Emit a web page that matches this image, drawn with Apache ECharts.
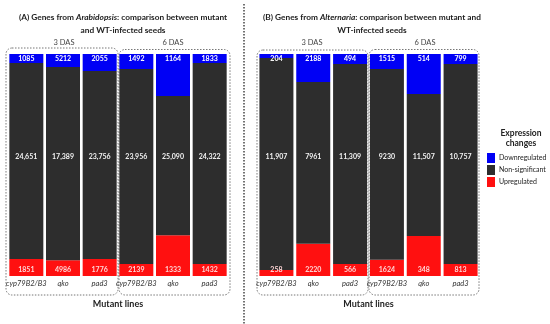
<!DOCTYPE html>
<html><head><meta charset="utf-8">
<script src="https://cdn.jsdelivr.net/npm/echarts@6/dist/echarts.min.js"></script>
<style>html,body{margin:0;padding:0;background:#fff}#c{width:550px;height:324px}</style>
</head><body><div id="c"></div>
<script>
// categories
const mutantLines = ['cyp79B2/B3', 'qko', 'pad3'];
const timepoints = ['3 DAS', '6 DAS'];
const seriesNames = ['Downregulated', 'Non-significant', 'Upregulated'];

// counts (labels) — Arabidopsis genes
const araDownCount = [1085, 5212, 2055, 1492, 1164, 1833];
const araNsCount   = [24651, 17389, 23756, 23956, 25090, 24322];
const araUpCount   = [1851, 4986, 1776, 2139, 1333, 1432];
// counts (labels) — Alternaria genes
const altDownCount = [204, 2188, 494, 1515, 514, 799];
const altNsCount   = [11907, 7961, 11309, 9230, 11507, 10757];
const altUpCount   = [258, 2220, 566, 1624, 348, 813];

// bar segment heights as drawn (% of bar)
const araDownPct = [4.1, 5.9, 7.7, 6.8, 18.9, 4.1];
const araNsPct   = [88.2, 87.0, 84.6, 87.8, 62.7, 90.5];
const araUpPct   = [7.7, 7.1, 7.7, 5.4, 18.4, 5.4];
const altDownPct = [1.8, 12.6, 4.5, 6.8, 18.0, 4.5];
const altNsPct   = [95.5, 72.9, 90.1, 85.9, 64.0, 90.1];
const altUpPct   = [2.7, 14.5, 5.4, 7.3, 18.0, 5.4];
const fullBar    = [100, 100, 100, 100, 100, 100];

const barKeys = [];
timepoints.forEach(t => mutantLines.forEach(m => barKeys.push(t + '|' + m)));

const FONT = 'Lato';
const C_DOWN = '#0000f5', C_NS = '#2d2d2d', C_UP = '#ff1010';
const fmtNum = v => v >= 10000 ? v.toLocaleString('en-US') : String(v);

function panelSeries(p, down, ns, up, downC, nsC, upC) {
  const base = { type: 'bar', xAxisIndex: p, yAxisIndex: p, barWidth: 34, barGap: '-100%', stack: 'p' + p };
  return [
    Object.assign({}, base, {
      name: 'Upregulated', data: up, itemStyle: { color: C_UP },
      label: { show: true, position: 'insideBottom', distance: 3, color: '#ffd6d6', fontFamily: FONT,
        fontSize: 7, fontWeight: 'bold', formatter: q => fmtNum(upC[q.dataIndex]) }
    }),
    Object.assign({}, base, { name: 'Non-significant', data: ns, itemStyle: { color: C_NS } }),
    Object.assign({}, base, {
      name: 'Downregulated', data: down, itemStyle: { color: C_DOWN },
      label: { show: true, position: 'insideTop', distance: 1, color: '#ffffff', fontFamily: FONT,
        fontSize: 7, fontWeight: 'bold', formatter: q => fmtNum(downC[q.dataIndex]) }
    }),
    {
      type: 'bar', name: 'nslabel' + p, xAxisIndex: p, yAxisIndex: p, barWidth: 34, barGap: '-100%',
      data: fullBar, z: 5, silent: true, itemStyle: { color: 'rgba(0,0,0,0)' },
      label: { show: true, position: ['50%', '46.4%'], align: 'center', verticalAlign: 'middle',
        color: '#f2f2f2', fontFamily: FONT, fontSize: 7, fontWeight: 'bold',
        formatter: q => fmtNum(nsC[q.dataIndex]) }
    }
  ];
}

const xAxisBase = {
  type: 'category', data: barKeys,
  axisLine: { show: false }, axisTick: { show: false },
  axisLabel: { formatter: v => v.split('|')[1], fontStyle: 'italic', fontFamily: FONT, fontSize: 7.5, color: '#333', margin: 4, interval: 0 },
  name: 'Mutant lines', nameLocation: 'middle', nameGap: 24,
  nameTextStyle: { fontFamily: FONT, fontWeight: 'bold', fontSize: 9, color: '#222' }
};
const yAxisBase = { type: 'value', min: 0, max: 100, show: false };

const titleStyle = {
  fontFamily: FONT, fontWeight: 'bold', fontSize: 8.3, color: '#222', lineHeight: 13,
  rich: { i: { fontFamily: FONT, fontWeight: 'bold', fontStyle: 'italic', fontSize: 8.3, color: '#222', lineHeight: 13 } }
};

function box(x, y, w, h) {
  return { type: 'rect', shape: { x, y, width: w, height: h, r: 6 }, silent: true,
    style: { fill: 'none', stroke: '#777', lineWidth: 1, lineDash: [1.5, 1.5] } };
}
function txt(x, y, text, extra) {
  return { type: 'text', x, y, silent: true,
    style: Object.assign({ text, fontFamily: FONT, fontSize: 7.5, fill: '#444', align: 'center', verticalAlign: 'middle' }, extra || {}) };
}

const option = {
  animation: false,
  backgroundColor: '#ffffff',
  title: [
    { text: '(A) Genes from {i|Arabidopsis}: comparison between mutant\nand WT-infected seeds', left: 118, top: 6, textAlign: 'center', textStyle: titleStyle },
    { text: '(B) Genes from {i|Alternaria}: comparison between mutant and\nWT-infected seeds', left: 367, top: 6, textAlign: 'center', textStyle: titleStyle }
  ],
  legend: {
    data: seriesNames, orient: 'vertical', left: 487, top: 153, icon: 'rect', padding: 0,
    itemWidth: 8, itemHeight: 10, itemGap: 2, selectedMode: false,
    textStyle: { fontFamily: FONT, fontSize: 7, color: '#222', padding: [0, 0, 0, -1] }
  },
  grid: [
    { left: 8, width: 220, top: 54, height: 222 },
    { left: 258, width: 221, top: 54, height: 222 }
  ],
  xAxis: [Object.assign({ gridIndex: 0 }, xAxisBase), Object.assign({ gridIndex: 1 }, xAxisBase)],
  yAxis: [Object.assign({ gridIndex: 0 }, yAxisBase), Object.assign({ gridIndex: 1 }, yAxisBase)],
  series: [].concat(
    panelSeries(0, araDownPct, araNsPct, araUpPct, araDownCount, araNsCount, araUpCount),
    panelSeries(1, altDownPct, altNsPct, altUpPct, altDownCount, altNsCount, altUpCount)
  ),
  graphic: [
    { type: 'line', shape: { x1: 244, y1: 4, x2: 244, y2: 324 }, silent: true,
      style: { stroke: '#444', lineWidth: 1.5, lineDash: [1.5, 1.5] } },
    box(6, 48, 112, 247), box(119, 49.5, 111, 245.5),
    box(257, 50, 111, 245), box(369, 49.5, 110, 245.5),
    txt(64, 43, timepoints[0]), txt(173, 43, timepoints[1]),
    txt(312, 43, timepoints[0]), txt(425, 43, timepoints[1]),
    txt(521, 133, 'Expression', { fontWeight: 'bold', fontSize: 8.5, fill: '#222' }),
    txt(521, 143, 'changes', { fontWeight: 'bold', fontSize: 8.5, fill: '#222' })
  ]
};

const chart = echarts.init(document.getElementById('c'), null, { renderer: 'canvas' });
chart.setOption(option);
</script>
</body></html>
